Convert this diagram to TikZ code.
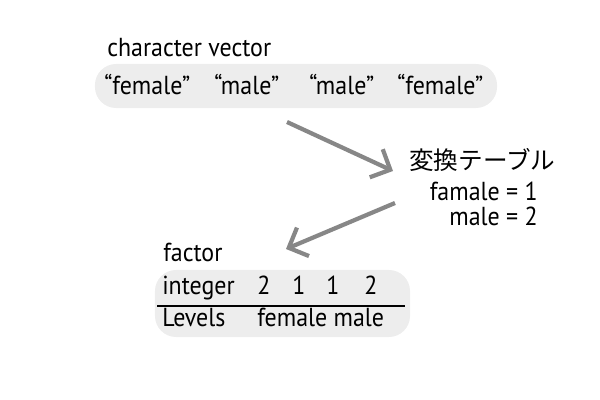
\documentclass[tikz,border=0pt]{standalone}
\usepackage{fontspec}
\setmainfont{PT Sans}[FakeStretch=0.92]
\newfontfamily\jpfont{Noto Sans CJK JP}
\usetikzlibrary{arrows.meta}

\begin{document}
\begin{tikzpicture}[x=0.025cm,y=-0.025cm,
    box/.style={fill=black!7, rounded corners=15pt, inner sep=0pt},
    conv/.style={draw=black!47, line width=3pt,
        -{Straight Barb[length=11pt, width=22pt, line width=3pt]}},
    lbl/.style={inner sep=0pt, font=\fontsize{18.5}{21}\selectfont}]
\useasboundingbox (0,0) rectangle (600,400);
% character vector
\node[box, minimum width=10.05cm, minimum height=1.1cm] (chr) at (296,86) {};
\node[lbl, anchor=base west] (chrtitle) at (107,57) {character vector};
\foreach \x/\w in {104/female,214/male,309/male,397/female}
    \node[lbl, anchor=base west] (s\x) at (\x,95) {“\w”};
% conversion table
\node[lbl, anchor=west, font=\jpfont\fontsize{17.5}{21}\selectfont] (tbl) at (409,160) {変換テーブル};
\node[lbl, anchor=base east] (lv1) at (538,201) {famale = 1};
\node[lbl, anchor=base east] (lv2) at (538,226) {male = 2};
% factor
\node[box, minimum width=6.375cm, minimum height=1.675cm] (fac) at (282.5,303.5) {};
\node[lbl, anchor=base west] (factitle) at (163,262) {factor};
\node[lbl, anchor=base west] (int) at (162,295) {integer};
\foreach \x/\v in {257/2,292/1,326/1,364/2}
    \node[lbl, anchor=base west] (i\x) at (\x,295) {\v};
\draw[line width=0.8pt] (157,306) -- (405,306);
\node[lbl, anchor=base west] (lev) at (162,327) {Levels};
\node[lbl, anchor=base west] (levnames) at (257,327) {female male};
% arrows
\coordinate (a1s) at (287,122);
\coordinate (a1e) at (393,171);
\coordinate (a2s) at (395,203);
\coordinate (a2e) at (286,249);
\draw[conv] (a1s) -- (a1e);
\draw[conv] (a2s) -- (a2e);
\end{tikzpicture}
\end{document}
